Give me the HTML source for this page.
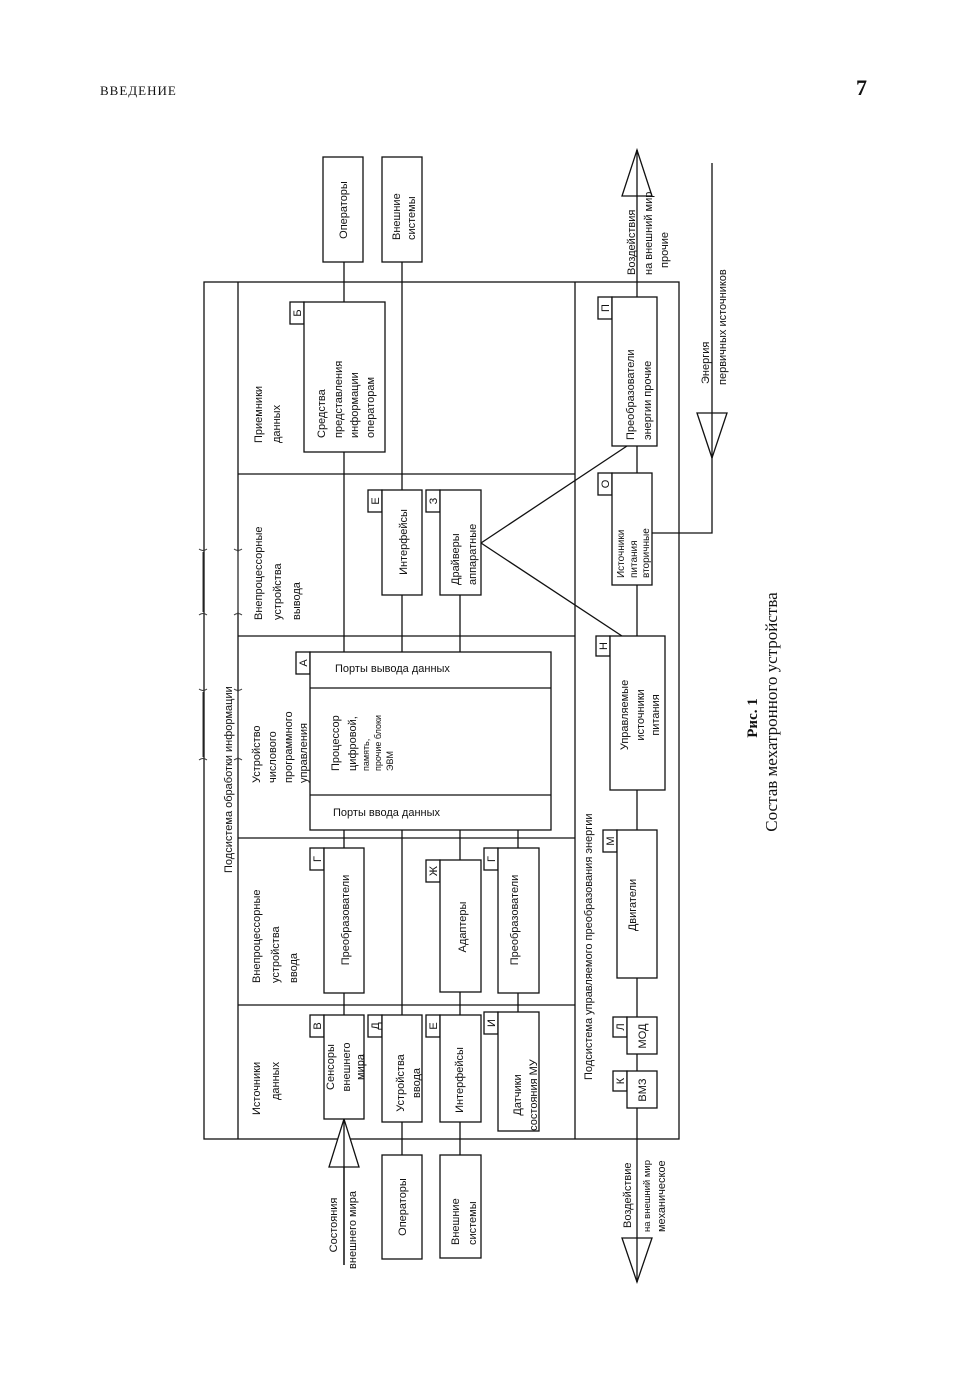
<!DOCTYPE html>
<html><head><meta charset="utf-8"><style>
html,body{margin:0;padding:0;background:#fff;}
svg{display:block;}
text{font-family:"Liberation Sans",sans-serif;font-size:11px;fill:#111;}
.s{font-family:"Liberation Serif",serif;}
</style></head><body>
<svg width="973" height="1388" viewBox="0 0 973 1388" xmlns="http://www.w3.org/2000/svg">
<g stroke="#111" stroke-width="1.3" fill="none">
<rect x="204" y="282" width="475" height="857"/>
<line x1="238" y1="282" x2="238" y2="1139"/>
<line x1="575" y1="282" x2="575" y2="1139"/>
<line x1="238" y1="474" x2="575" y2="474"/>
<line x1="238" y1="636" x2="575" y2="636"/>
<line x1="238" y1="838" x2="575" y2="838"/>
<line x1="238" y1="1005" x2="575" y2="1005"/>
<line x1="344" y1="262" x2="344" y2="1265"/>
<line x1="402" y1="262" x2="402" y2="1155"/>
<line x1="460" y1="595" x2="460" y2="1155"/>
<line x1="518" y1="830" x2="518" y2="1012"/>
<line x1="637" y1="150" x2="637" y2="1282"/>
<polyline points="652,533 712,533 712,163"/>
<line x1="481" y1="543" x2="627" y2="446"/>
<line x1="481" y1="543" x2="622" y2="636"/>
<polygon points="344,1119 329,1167 359,1167" fill="#fff"/>
<line x1="344" y1="1119" x2="344" y2="1265"/>
<polygon points="637,150 622,196 652,196" fill="#fff"/>
<line x1="637" y1="150" x2="637" y2="196"/>
<polygon points="637,1282 622,1238 652,1238" fill="#fff"/>
<line x1="637" y1="1238" x2="637" y2="1282"/>
<polygon points="712,458 697,413 727,413" fill="#fff"/>
<line x1="712" y1="413" x2="712" y2="458"/>
</g>
<g stroke="#111" stroke-width="1.3" fill="#fff">
<rect x="323" y="157" width="40" height="105"/>
<rect x="382" y="157" width="40" height="105"/>
<rect x="382" y="1155" width="40" height="104"/>
<rect x="440" y="1155" width="41" height="103"/>
<rect x="290" y="302" width="14" height="22"/><rect x="304" y="302" width="81" height="150"/>
<rect x="368" y="490" width="14" height="22"/><rect x="382" y="490" width="40" height="105"/>
<rect x="426" y="490" width="14" height="22"/><rect x="440" y="490" width="41" height="105"/>
<rect x="296" y="652" width="14" height="22"/><rect x="310" y="652" width="241" height="178"/>
<rect x="310" y="848" width="14" height="22"/><rect x="324" y="848" width="40" height="145"/>
<rect x="426" y="860" width="14" height="22"/><rect x="440" y="860" width="41" height="132"/>
<rect x="484" y="848" width="14" height="22"/><rect x="498" y="848" width="41" height="145"/>
<rect x="310" y="1015" width="14" height="22"/><rect x="324" y="1015" width="40" height="104"/>
<rect x="368" y="1015" width="14" height="22"/><rect x="382" y="1015" width="40" height="107"/>
<rect x="426" y="1015" width="14" height="22"/><rect x="440" y="1015" width="41" height="107"/>
<rect x="484" y="1012" width="14" height="22"/><rect x="498" y="1012" width="41" height="119"/>
<rect x="598" y="297" width="14" height="22"/><rect x="612" y="297" width="45" height="149"/>
<rect x="598" y="473" width="14" height="22"/><rect x="612" y="473" width="40" height="112"/>
<rect x="596" y="636" width="14" height="20"/><rect x="610" y="636" width="55" height="154"/>
<rect x="603" y="830" width="14" height="22"/><rect x="617" y="830" width="40" height="148"/>
<rect x="613" y="1017" width="14" height="20"/><rect x="627" y="1017" width="30" height="37"/>
<rect x="613" y="1071" width="14" height="20"/><rect x="627" y="1071" width="30" height="37"/>
</g>
<g stroke="#111" stroke-width="1.3">
<line x1="310" y1="688" x2="551" y2="688"/>
<line x1="310" y1="795" x2="551" y2="795"/>
</g>
<g stroke="#333" stroke-width="1" fill="none">
<line x1="203" y1="552" x2="203" y2="612"/><line x1="203" y1="692" x2="203" y2="757"/>
<line x1="238" y1="552" x2="238" y2="612"/><line x1="238" y1="692" x2="238" y2="757"/>
<path d="M199,549 q4,3 8,0 M199,615 q4,-3 8,0 M199,689 q4,3 8,0 M199,760 q4,-3 8,0"/>
<path d="M234,549 q4,3 8,0 M234,615 q4,-3 8,0 M234,689 q4,3 8,0 M234,760 q4,-3 8,0"/>
</g>
<text class="s" x="100" y="95" style="font-size:13px;letter-spacing:1px">ВВЕДЕНИЕ</text>
<text class="s" x="856" y="95" style="font-size:22px;font-weight:bold">7</text>
<text x="335" y="672">Порты вывода данных</text>
<text x="333" y="816">Порты ввода данных</text>
<g>
<text transform="translate(262,443) rotate(-90)">Приемники</text>
<text transform="translate(280,443) rotate(-90)">данных</text>
<text transform="translate(262,620) rotate(-90)">Внепроцессорные</text>
<text transform="translate(281,620) rotate(-90)">устройства</text>
<text transform="translate(300,620) rotate(-90)">вывода</text>
<text transform="translate(260,783) rotate(-90)">Устройство</text>
<text transform="translate(276,783) rotate(-90)">числового</text>
<text transform="translate(292,783) rotate(-90)">программного</text>
<text transform="translate(307,783) rotate(-90)">управления</text>
<text transform="translate(260,983) rotate(-90)">Внепроцессорные</text>
<text transform="translate(279,983) rotate(-90)">устройства</text>
<text transform="translate(297,983) rotate(-90)">ввода</text>
<text transform="translate(260,1115) rotate(-90)">Источники</text>
<text transform="translate(279,1100) rotate(-90)">данных</text>
<text transform="translate(232,873) rotate(-90)">Подсистема обработки информации</text>
<text transform="translate(592,1080) rotate(-90)">Подсистема управляемого преобразования энергии</text>

<text transform="translate(325,438) rotate(-90)">Средства</text>
<text transform="translate(342,438) rotate(-90)">представления</text>
<text transform="translate(358,438) rotate(-90)">информации</text>
<text transform="translate(374,438) rotate(-90)">операторам</text>
<text transform="translate(407,542) rotate(-90)" text-anchor="middle">Интерфейсы</text>
<text transform="translate(459,585) rotate(-90)">Драйверы</text>
<text transform="translate(476,585) rotate(-90)">аппаратные</text>
<text transform="translate(339,771) rotate(-90)">Процессор</text>
<text transform="translate(356,771) rotate(-90)">цифровой,</text>
<text transform="translate(369,771) rotate(-90)" style="font-size:9px">память,</text>
<text transform="translate(381,771) rotate(-90)" style="font-size:9px">прочие блоки</text>
<text transform="translate(393,771) rotate(-90)" style="font-size:9px">ЭВМ</text>
<text transform="translate(349,920) rotate(-90)" text-anchor="middle">Преобразователи</text>
<text transform="translate(466,927) rotate(-90)" text-anchor="middle">Адаптеры</text>
<text transform="translate(518,920) rotate(-90)" text-anchor="middle">Преобразователи</text>
<text transform="translate(334,1067) rotate(-90)" text-anchor="middle">Сенсоры</text>
<text transform="translate(350,1067) rotate(-90)" text-anchor="middle">внешнего</text>
<text transform="translate(364,1067) rotate(-90)" text-anchor="middle">мира</text>
<text transform="translate(404,1083) rotate(-90)" text-anchor="middle">Устройства</text>
<text transform="translate(420,1083) rotate(-90)" text-anchor="middle">ввода</text>
<text transform="translate(463,1080) rotate(-90)" text-anchor="middle">Интерфейсы</text>
<text transform="translate(521,1095) rotate(-90)" text-anchor="middle">Датчики</text>
<text transform="translate(537,1095) rotate(-90)" text-anchor="middle">состояния МУ</text>
<text transform="translate(337,1225) rotate(-90)" text-anchor="middle">Состояния</text>
<text transform="translate(356,1230) rotate(-90)" text-anchor="middle">внешнего мира</text>
<text transform="translate(406,1207) rotate(-90)" text-anchor="middle">Операторы</text>
<text transform="translate(459,1245) rotate(-90)">Внешние</text>
<text transform="translate(476,1245) rotate(-90)">системы</text>
<text transform="translate(347,210) rotate(-90)" text-anchor="middle">Операторы</text>
<text transform="translate(400,240) rotate(-90)">Внешние</text>
<text transform="translate(415,240) rotate(-90)">системы</text>

<text transform="translate(635,275) rotate(-90)">Воздействия</text>
<text transform="translate(652,275) rotate(-90)">на внешний мир</text>
<text transform="translate(668,250) rotate(-90)" text-anchor="middle">прочие</text>
<text transform="translate(709,384) rotate(-90)">Энергия</text>
<text transform="translate(726,385) rotate(-90)">первичных источников</text>
<text transform="translate(634,440) rotate(-90)">Преобразователи</text>
<text transform="translate(651,440) rotate(-90)">энергии прочие</text>
<text transform="translate(624,578) rotate(-90)" style="font-size:10px">Источники</text>
<text transform="translate(637,578) rotate(-90)" style="font-size:10px">питания</text>
<text transform="translate(649,578) rotate(-90)" style="font-size:10px">вторичные</text>
<text transform="translate(628,715) rotate(-90)" text-anchor="middle">Управляемые</text>
<text transform="translate(644,715) rotate(-90)" text-anchor="middle">источники</text>
<text transform="translate(659,715) rotate(-90)" text-anchor="middle">питания</text>
<text transform="translate(636,905) rotate(-90)" text-anchor="middle">Двигатели</text>
<text transform="translate(646,1036) rotate(-90)" text-anchor="middle">МОД</text>
<text transform="translate(646,1090) rotate(-90)" text-anchor="middle">ВМЗ</text>
<text transform="translate(631,1228) rotate(-90)">Воздействие</text>
<text transform="translate(650,1232) rotate(-90)" style="font-size:9.5px">на внешний мир</text>
<text transform="translate(665,1232) rotate(-90)">механическое</text>

<text class="s" transform="translate(757,718) rotate(-90)" text-anchor="middle" style="font-size:15px;font-weight:bold">Рис. 1</text>
<text class="s" transform="translate(777,712) rotate(-90)" text-anchor="middle" style="font-size:17px">Состав мехатронного устройства</text>

<g style="font-size:10px">
<text transform="translate(301,313) rotate(-90)" text-anchor="middle">Б</text>
<text transform="translate(379,501) rotate(-90)" text-anchor="middle">Е</text>
<text transform="translate(437,501) rotate(-90)" text-anchor="middle">З</text>
<text transform="translate(307,663) rotate(-90)" text-anchor="middle">А</text>
<text transform="translate(321,859) rotate(-90)" text-anchor="middle">Г</text>
<text transform="translate(437,871) rotate(-90)" text-anchor="middle">Ж</text>
<text transform="translate(495,859) rotate(-90)" text-anchor="middle">Г</text>
<text transform="translate(321,1026) rotate(-90)" text-anchor="middle">В</text>
<text transform="translate(379,1026) rotate(-90)" text-anchor="middle">Д</text>
<text transform="translate(437,1026) rotate(-90)" text-anchor="middle">Е</text>
<text transform="translate(495,1023) rotate(-90)" text-anchor="middle">И</text>
<text transform="translate(609,308) rotate(-90)" text-anchor="middle">П</text>
<text transform="translate(609,484) rotate(-90)" text-anchor="middle">О</text>
<text transform="translate(607,646) rotate(-90)" text-anchor="middle">Н</text>
<text transform="translate(614,841) rotate(-90)" text-anchor="middle">М</text>
<text transform="translate(624,1027) rotate(-90)" text-anchor="middle">Л</text>
<text transform="translate(624,1081) rotate(-90)" text-anchor="middle">К</text>
</g>
</g>
</svg>
</body></html>
